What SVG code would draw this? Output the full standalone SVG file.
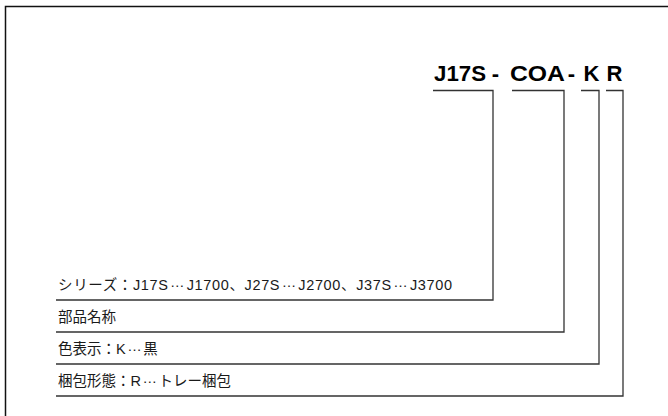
<svg xmlns="http://www.w3.org/2000/svg" width="668" height="416" viewBox="0 0 668 416">
<style>
.code{font-family:"Liberation Sans","Noto Sans CJK JP",sans-serif;font-weight:bold;font-size:22px;fill:#000}
.lbl{font-family:"Liberation Sans","Noto Sans CJK JP",sans-serif;font-size:14.5px;fill:#1a1a1a}
.el{font-family:"Liberation Sans",sans-serif;baseline-shift:3.5px;letter-spacing:1.5px}
.conn{fill:none;stroke:#333;stroke-width:1.3}
.frame{fill:none;stroke:#111;stroke-width:1.5}
</style>
<rect width="668" height="416" fill="#fff"/>
<g id="frame"><path class="frame" d="M5.5,416 V6.5 H668"/></g>
<g id="code">
<text class="code" x="434" y="81" textLength="52" lengthAdjust="spacingAndGlyphs">J17S</text>
<text class="code" x="495.5" y="81" text-anchor="middle">-</text>
<text class="code" x="510" y="81" textLength="55" lengthAdjust="spacingAndGlyphs">COA</text>
<text class="code" x="571.5" y="81" text-anchor="middle">-</text>
<text class="code" x="583.5" y="81">K</text>
<text class="code" x="606.5" y="81">R</text>
</g>
<g id="connectors">
<polyline class="conn" points="433,90.5 493,90.5 493,300 56,300"/>
<polyline class="conn" points="512,90.5 564,90.5 564,332 56,332"/>
<polyline class="conn" points="581,90.5 599,90.5 599,364 56,364"/>
<polyline class="conn" points="606,90.5 623,90.5 623,396 56,396"/>
</g>
<g id="series"><text class="lbl" x="58" y="290" textLength="394" lengthAdjust="spacing">シリーズ：J17S<tspan class="el" dx="1.5">…</tspan>J1700、J27S<tspan class="el" dx="1.5">…</tspan>J2700、J37S<tspan class="el" dx="1.5">…</tspan>J3700</text></g>
<g id="part-name"><text class="lbl" x="58" y="322">部品名称</text></g>
<g id="color"><text class="lbl" x="58" y="354">色表示：K<tspan class="el" dx="1.5">…</tspan>黒</text></g>
<g id="packing"><text class="lbl" x="58" y="386">梱包形態：R<tspan class="el" dx="1.5">…</tspan>トレー梱包</text></g>
</svg>
